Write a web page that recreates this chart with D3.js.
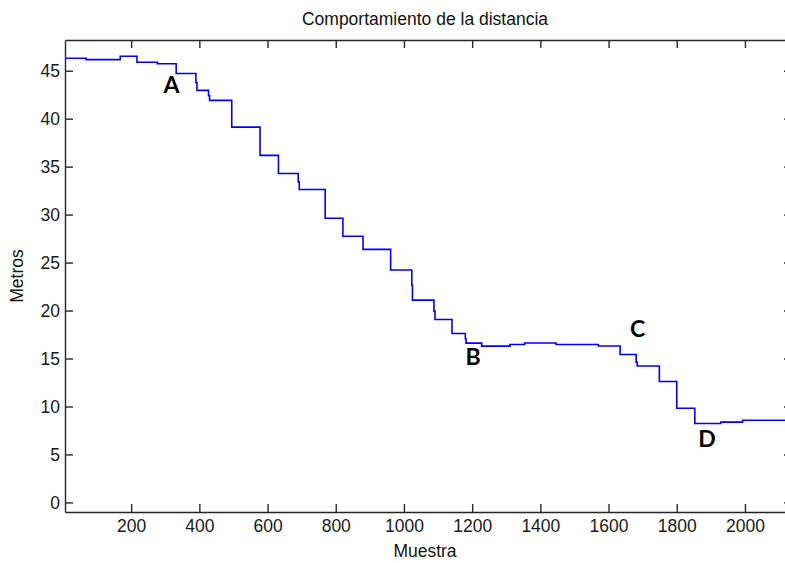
<!DOCTYPE html>
<html>
<head>
<meta charset="utf-8">
<script src="https://cdn.jsdelivr.net/npm/d3@7/dist/d3.min.js"></script>
<style>
  html, body { margin: 0; padding: 0; background: #fff; }
  svg { display: block; }
</style>
</head>
<body>
<script>
// Sample index at which each distance level starts (stepped signal)
const stepStart = [6, 68, 168, 217, 277, 332, 390, 393, 427, 430,
  495, 578, 632, 690, 693, 769, 821, 880, 961, 1023,
  1025, 1088, 1091, 1141, 1180, 1182, 1228, 1311, 1354, 1446,
  1570, 1634, 1681, 1684, 1749, 1800, 1853, 1929, 1993, 2140];
// Distance in metres held from each start sample
const distance = [46.29, 46.15, 46.50, 45.88, 45.73, 44.71, 43.75, 42.95, 42.39, 41.91,
  39.12, 36.17, 34.29, 33.41, 32.62, 29.62, 27.74, 26.38, 24.22, 22.63,
  21.09, 19.94, 19.07, 17.61, 17.06, 16.60, 16.29, 16.46, 16.62, 16.46,
  16.31, 15.42, 14.62, 14.22, 12.60, 9.81, 8.22, 8.37, 8.56, 8.56];

const xTicks = [200, 400, 600, 800, 1000, 1200, 1400, 1600, 1800, 2000];
const yTicks = [0, 5, 10, 15, 20, 25, 30, 35, 40, 45];

// Point annotations (sample, metres) marking phases of the run
const markNames = ["A", "B", "C", "D"];
const markSample = [318, 1203, 1685, 1889];
const markMetres = [42.7, 14.3, 17.2, 5.8];

const W = 785, H = 563;
const plotL = 65, plotR = 792, plotT = 40, plotB = 512;

const x = d3.scaleLinear().domain([6, 2138]).range([plotL, plotR]);
const y = d3.scaleLinear().domain([-1, 48.2]).range([plotB, plotT]);

const svg = d3.select("body").append("svg")
  .attr("width", W).attr("height", H)
  .style("font-family", "'Liberation Sans', Arial, sans-serif");

svg.append("rect").attr("width", W).attr("height", H).attr("fill", "#fff");

svg.append("clipPath").attr("id", "plotClip")
  .append("rect").attr("x", plotL).attr("y", plotT)
  .attr("width", plotR - plotL).attr("height", plotB - plotT);

const points = stepStart.map((s, i) => [s, distance[i]]);
const line = d3.line()
  .x(d => x(d[0])).y(d => y(d[1]))
  .curve(d3.curveStepAfter);

svg.append("path")
  .datum(points)
  .attr("clip-path", "url(#plotClip)")
  .attr("fill", "none")
  .attr("stroke", "#0000ff")
  .attr("stroke-width", 1.6)
  .attr("d", line);

const axisColor = "#262626";
const tickLen = 8;
const fs = "17.5px";
const fmt = d3.format("d");

// Axis frames with inward ticks on all four sides
const xBottom = d3.axisBottom(x).tickValues(xTicks).tickFormat(fmt).tickSizeInner(-tickLen).tickSizeOuter(0).tickPadding(8);
const xTop = d3.axisTop(x).tickValues(xTicks).tickSizeInner(-tickLen).tickSizeOuter(0).tickFormat("");
const yLeft = d3.axisLeft(y).tickValues(yTicks).tickFormat(fmt).tickSizeInner(-tickLen).tickSizeOuter(0).tickPadding(5);
const yRight = d3.axisRight(y).tickValues(yTicks).tickSizeInner(-tickLen).tickSizeOuter(0).tickFormat("");

function style(g) {
  g.select(".domain").attr("stroke", axisColor).attr("stroke-width", 1.4);
  g.selectAll(".tick line").attr("stroke", axisColor).attr("stroke-width", 1.4);
  g.selectAll(".tick text").attr("fill", "#1a1a1a")
    .style("font-size", fs).style("font-family", "'Liberation Sans', Arial, sans-serif");
}

svg.append("g").attr("transform", `translate(0,${plotB})`).call(xBottom).call(style);
svg.append("g").attr("transform", `translate(0,${plotT})`).call(xTop).call(style);
svg.append("g").attr("transform", `translate(${plotL},0)`).call(yLeft).call(style);
svg.append("g").attr("transform", `translate(${plotR},0)`).call(yRight).call(style);

// Title and axis labels
const cx = (plotL + W) / 2;
svg.append("text").attr("x", cx).attr("y", 25)
  .attr("text-anchor", "middle").attr("fill", "#111")
  .style("font-size", fs).text("Comportamiento de la distancia");
svg.append("text").attr("x", cx).attr("y", 557)
  .attr("text-anchor", "middle").attr("fill", "#111")
  .style("font-size", fs).text("Muestra");
svg.append("text")
  .attr("transform", `translate(23,${(plotT + plotB) / 2}) rotate(-90)`)
  .attr("text-anchor", "middle").attr("fill", "#111")
  .style("font-size", fs).text("Metros");

// Phase markers
svg.append("g").selectAll("text").data(markNames).join("text")
  .attr("x", (d, i) => x(markSample[i]))
  .attr("y", (d, i) => y(markMetres[i]))
  .attr("text-anchor", "middle")
  .attr("fill", "#000")
  .style("font-family", "Lato, 'Open Sans', sans-serif")
  .style("font-weight", "bold")
  .style("font-size", "23px")
  .text(d => d);
</script>
</body>
</html>
